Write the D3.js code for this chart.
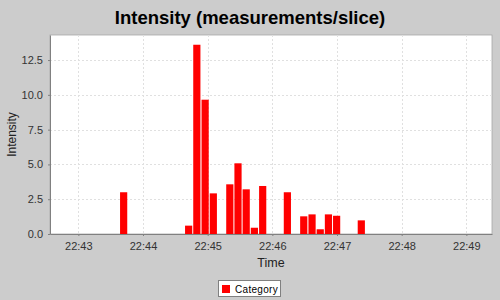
<!DOCTYPE html>
<html>
<head>
<meta charset="utf-8">
<script src="https://cdn.jsdelivr.net/npm/d3@7"></script>
<style>
  body { margin: 0; background: #cccccc; }
  svg { display: block; font-family: "Liberation Sans", Arial, sans-serif; }
</style>
</head>
<body>
<script>
// slice start times (HH:MM:SS.s) and measurements per slice
var sliceTimes = ["22:43:38.7", "22:44:39.0", "22:44:46.6", "22:44:54.3", "22:45:01.9",
                  "22:45:17.2", "22:45:24.8", "22:45:32.4", "22:45:40.0", "22:45:47.7",
                  "22:46:10.6", "22:46:25.8", "22:46:33.5", "22:46:41.1", "22:46:48.7",
                  "22:46:56.3", "22:47:19.2"];
var sliceValues = [3.0, 0.6, 13.6, 9.65, 2.92,
                   3.57, 5.08, 3.21, 0.45, 3.45,
                   3.0, 1.27, 1.41, 0.34, 1.41,
                   1.31, 0.98];
var sliceSeconds = 7.6;
var timeRange = ["22:42:33.7", "22:49:23.8"];
var yTicks = [0, 2.5, 5, 7.5, 10, 12.5];
var yMax = 14.3;
var seriesName = "Category";

var svgW = 500;
var svgH = 300;

var plotLeft = 50;
var plotRight = 492;
var plotTop = 35;
var plotBottom = 234;

function parseT(s) {
    var p = s.split(":");
    var secs = +p[2];
    var d = new Date(2000, 0, 1, +p[0], +p[1], 0, 0);
    return new Date(d.getTime() + secs * 1000);
}

var svg = d3.select("body")
            .append("svg")
            .attr("width", svgW)
            .attr("height", svgH);

svg.append("rect")
   .attr("width", svgW)
   .attr("height", svgH)
   .attr("fill", "#cccccc");

var xScale = d3.scaleTime()
               .domain(timeRange.map(parseT))
               .range([plotLeft, plotRight]);

var yScale = d3.scaleLinear()
               .domain([0, yMax])
               .range([plotBottom, plotTop]);

// plot background
svg.append("rect")
   .attr("x", plotLeft)
   .attr("y", plotTop)
   .attr("width", plotRight - plotLeft)
   .attr("height", plotBottom - plotTop)
   .attr("fill", "#ffffff")
   .attr("stroke", "#a8a8a8")
   .attr("stroke-width", 0.8);

var xTicks = xScale.ticks(d3.timeMinute.every(1));

// grid lines
svg.append("g")
   .selectAll("line")
   .data(xTicks)
   .enter()
   .append("line")
   .attr("x1", function(d) { return Math.round(xScale(d)) + 0.5; })
   .attr("x2", function(d) { return Math.round(xScale(d)) + 0.5; })
   .attr("y1", plotTop)
   .attr("y2", plotBottom)
   .attr("stroke", "#e0e0e0")
   .attr("stroke-dasharray", "2,2");

svg.append("g")
   .selectAll("line")
   .data(yTicks.slice(1))
   .enter()
   .append("line")
   .attr("x1", plotLeft)
   .attr("x2", plotRight)
   .attr("y1", function(d) { return Math.round(yScale(d)) + 0.5; })
   .attr("y2", function(d) { return Math.round(yScale(d)) + 0.5; })
   .attr("stroke", "#e0e0e0")
   .attr("stroke-dasharray", "2,2");

// bars
svg.append("g")
   .selectAll("rect")
   .data(sliceTimes)
   .enter()
   .append("rect")
   .attr("x", function(d) { return xScale(parseT(d)); })
   .attr("y", function(d, i) { return yScale(sliceValues[i]); })
   .attr("width", function(d) {
       var t = parseT(d);
       return xScale(new Date(t.getTime() + sliceSeconds * 1000)) - xScale(t) - 1;
   })
   .attr("height", function(d, i) { return plotBottom - yScale(sliceValues[i]); })
   .attr("fill", "#ff0000");

// axes
var xAxis = d3.axisBottom(xScale)
              .tickValues(xTicks)
              .tickSizeInner(2)
              .tickSizeOuter(0)
              .tickPadding(6)
              .tickFormat(d3.timeFormat("%H:%M"));

var yAxis = d3.axisLeft(yScale)
              .tickValues(yTicks)
              .tickSizeInner(2)
              .tickSizeOuter(0)
              .tickPadding(5)
              .tickFormat(d3.format(".1f"));

var gx = svg.append("g")
            .attr("transform", "translate(0," + plotBottom + ")")
            .call(xAxis);

var gy = svg.append("g")
            .attr("transform", "translate(" + plotLeft + ",0)")
            .call(yAxis);

[gx, gy].forEach(function(g) {
    g.select(".domain").attr("stroke", "#808080");
    g.selectAll(".tick line").attr("stroke", "#808080");
    g.selectAll(".tick text")
     .attr("fill", "#333333")
     .style("font-size", "11px")
     .style("font-family", "'Liberation Sans', Arial, sans-serif");
});

// title
svg.append("text")
   .attr("x", 250)
   .attr("y", 24)
   .attr("text-anchor", "middle")
   .style("font-size", "18.5px")
   .style("font-weight", "bold")
   .attr("fill", "#000000")
   .text("Intensity (measurements/slice)");

// axis labels
svg.append("text")
   .attr("x", (plotLeft + plotRight) / 2)
   .attr("y", 267)
   .attr("text-anchor", "middle")
   .style("font-size", "12.5px")
   .attr("fill", "#222222")
   .text("Time");

svg.append("text")
   .attr("transform", "translate(16," + ((plotTop + plotBottom) / 2) + ") rotate(-90)")
   .attr("text-anchor", "middle")
   .style("font-size", "12px")
   .attr("fill", "#222222")
   .text("Intensity");

// legend
var legend = svg.append("g");

legend.append("rect")
      .attr("x", 218.5)
      .attr("y", 280.5)
      .attr("width", 62)
      .attr("height", 16)
      .attr("fill", "#ffffff")
      .attr("stroke", "#808080");

legend.append("rect")
      .attr("x", 222)
      .attr("y", 285)
      .attr("width", 8)
      .attr("height", 8)
      .attr("fill", "#ff0000");

legend.append("text")
      .attr("x", 235)
      .attr("y", 293)
      .style("font-size", "10px")
      .style("letter-spacing", "0.3px")
      .attr("fill", "#000000")
      .text(seriesName);
</script>
</body>
</html>
